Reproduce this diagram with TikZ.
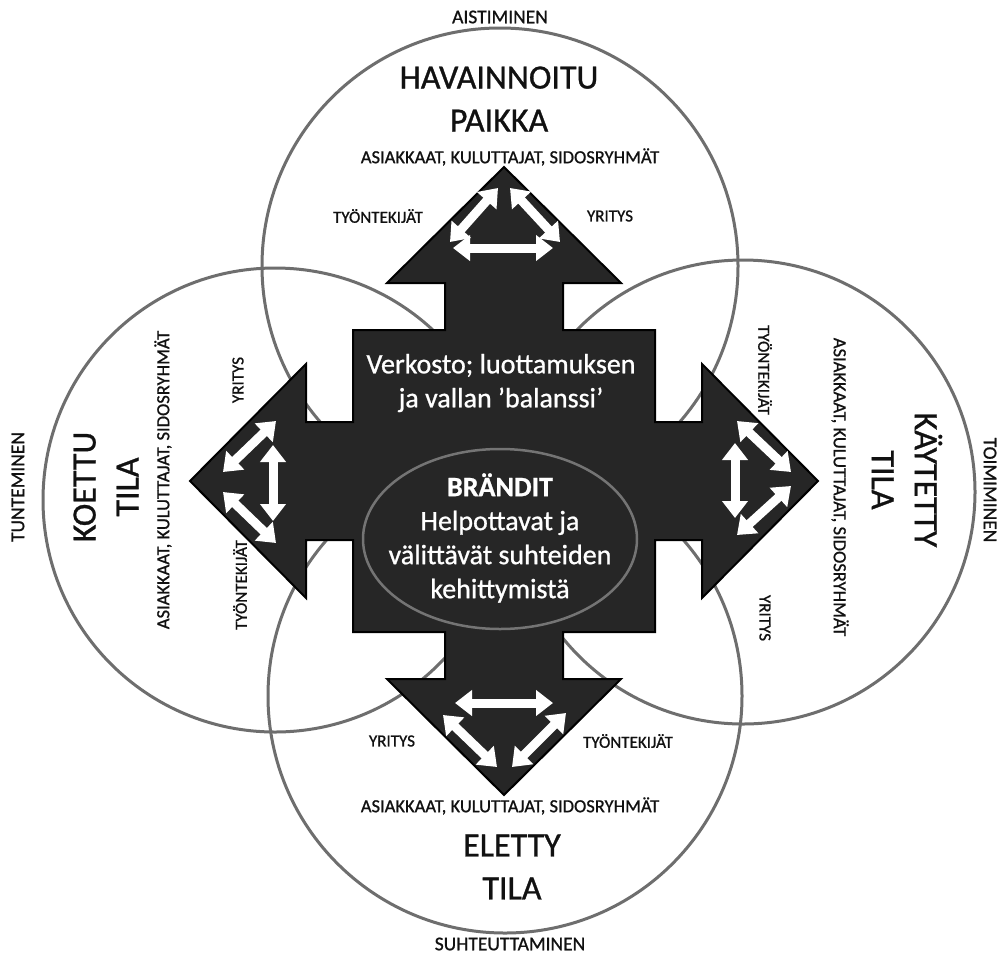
\documentclass[tikz,border=0pt]{standalone}
\usepackage{fontspec}
\setmainfont{Carlito}[FakeBold=0.9]
\usetikzlibrary{arrows.meta,shapes.geometric}
\definecolor{ringgray}{HTML}{6E6E6E}
\definecolor{crossfill}{HTML}{262626}
\definecolor{ovalgray}{HTML}{747474}
\definecolor{ink}{HTML}{111111}
\begin{document}
\begin{tikzpicture}[x=1pt,y=-1pt,
  ring/.style={draw=ringgray,line width=3pt},
  title/.style={align=center,text=ink,font=\fontsize{34}{43}\selectfont},
  dirlabel/.style={text=ink,font=\fontsize{19.5}{22}\selectfont},
  grouplabel/.style={text=ink,font=\fontsize{18.5}{22}\selectfont},
  actorlabel/.style={text=ink,font=\fontsize{17}{20}\selectfont},
  innertext/.style={text=white,align=center,font=\fontsize{28}{34}\selectfont},
  crossshape/.style={fill=crossfill,draw=black,line width=2pt,line join=miter},
  wdbl/.style={draw=white,line width=9pt,
    {Triangle[length=17pt,width=25pt]}-{Triangle[length=17pt,width=25pt]}},
]
\useasboundingbox (0,0) rectangle (1004,956);
\fill[white] (0,0) rectangle (1004,956);

% the four overlapping circles
\draw[ring] (500,266) circle[radius=238];
\draw[ring] (505,696) circle[radius=237];
\draw[ring] (275,500) circle[radius=232];
\draw[ring] (743,492) circle[radius=232];

% central cross with four arrowheads
\coordinate (C) at (504,481);
\draw[crossshape]
  (504,167) -- (621,283) -- (563,283) -- (563,330) -- (655,330) -- (655,422)
  -- (702,422) -- (702,364) -- (818,481) -- (702,598) -- (702,540) -- (655,540)
  -- (655,632) -- (563,632) -- (563,679) -- (621,679) -- (504,795) -- (387,679)
  -- (445,679) -- (445,632) -- (353,632) -- (353,540) -- (306,540) -- (306,598)
  -- (190,481) -- (306,364) -- (306,422) -- (353,422) -- (353,330) -- (445,330)
  -- (445,283) -- (387,283) -- cycle;

% white double arrows inside each arrowhead
% top
\coordinate (t1) at (453,248); \coordinate (t2) at (553,248);
\coordinate (t3) at (450,242); \coordinate (t4) at (498,188);
\coordinate (t5) at (510,188); \coordinate (t6) at (560,242);
\draw[wdbl] (t1) -- (t2);
\draw[wdbl] (t3) -- (t4);
\draw[wdbl] (t5) -- (t6);
% bottom
\coordinate (b1) at (455,703); \coordinate (b2) at (553,703);
\coordinate (b3) at (443,715); \coordinate (b4) at (497,767);
\coordinate (b5) at (512,767); \coordinate (b6) at (566,713);
\draw[wdbl] (b1) -- (b2);
\draw[wdbl] (b3) -- (b4);
\draw[wdbl] (b5) -- (b6);
% left
\coordinate (l1) at (273,445); \coordinate (l2) at (273,521);
\coordinate (l3) at (223,472); \coordinate (l4) at (276,421);
\coordinate (l5) at (223,492); \coordinate (l6) at (276,543);
\draw[wdbl] (l1) -- (l2);
\draw[wdbl] (l3) -- (l4);
\draw[wdbl] (l5) -- (l6);
% right
\coordinate (r1) at (735,443); \coordinate (r2) at (735,518);
\coordinate (r3) at (737,421); \coordinate (r4) at (791,472);
\coordinate (r5) at (791,486); \coordinate (r6) at (737,535);
\draw[wdbl] (r1) -- (r2);
\draw[wdbl] (r3) -- (r4);
\draw[wdbl] (r5) -- (r6);

% texts inside the cross
\node[innertext] (network) at (501,383) {Verkosto; luottamuksen\\ja vallan ’balanssi’};
\node[ellipse,draw=ovalgray,line width=2.5pt,minimum width=274,minimum height=180] (brands) at (500,539) {};
\node[innertext] (brandtext) at (500,538)
  {\textbf{BRÄNDIT}\\Helpottavat ja\\välittävät suhteiden\\kehittymistä};

% top circle
\node[dirlabel] (aist) at (500,17) {AISTIMINEN};
\node[title] (observed) at (499,99) {HAVAINNOITU\\PAIKKA};
\node[grouplabel] (gtop) at (510,157) {ASIAKKAAT, KULUTTAJAT, SIDOSRYHMÄT};
\node[actorlabel] (etop) at (378,216) {TYÖNTEKIJÄT};
\node[actorlabel] (ctop) at (610,216) {YRITYS};

% bottom circle
\node[actorlabel] (cbot) at (392,741) {YRITYS};
\node[actorlabel] (ebot) at (628,741) {TYÖNTEKIJÄT};
\node[grouplabel] (gbot) at (510,806) {ASIAKKAAT, KULUTTAJAT, SIDOSRYHMÄT};
\node[title] (lived) at (512,867) {ELETTY\\TILA};
\node[dirlabel] (suht) at (510,944) {SUHTEUTTAMINEN};

% left circle
\node[dirlabel,rotate=90] (tunt) at (18,487) {TUNTEMINEN};
\node[title,rotate=90] (felt) at (106,487) {KOETTU\\TILA};
\node[grouplabel,rotate=90] (gleft) at (163,480) {ASIAKKAAT, KULUTTAJAT, SIDOSRYHMÄT};
\node[actorlabel,rotate=90] (cleft) at (238,380) {YRITYS};
\node[actorlabel,rotate=90] (eleft) at (240,585) {TYÖNTEKIJÄT};

% right circle
\node[dirlabel,rotate=-90] (toim) at (990,490) {TOIMIMINEN};
\node[title,rotate=-90] (used) at (907,480) {KÄYTETTY\\TILA};
\node[grouplabel,rotate=-90] (gright) at (840,487) {ASIAKKAAT, KULUTTAJAT, SIDOSRYHMÄT};
\node[actorlabel,rotate=-90] (eright) at (765,370) {TYÖNTEKIJÄT};
\node[actorlabel,rotate=-90] (cright) at (765,618) {YRITYS};
\end{tikzpicture}
\end{document}
